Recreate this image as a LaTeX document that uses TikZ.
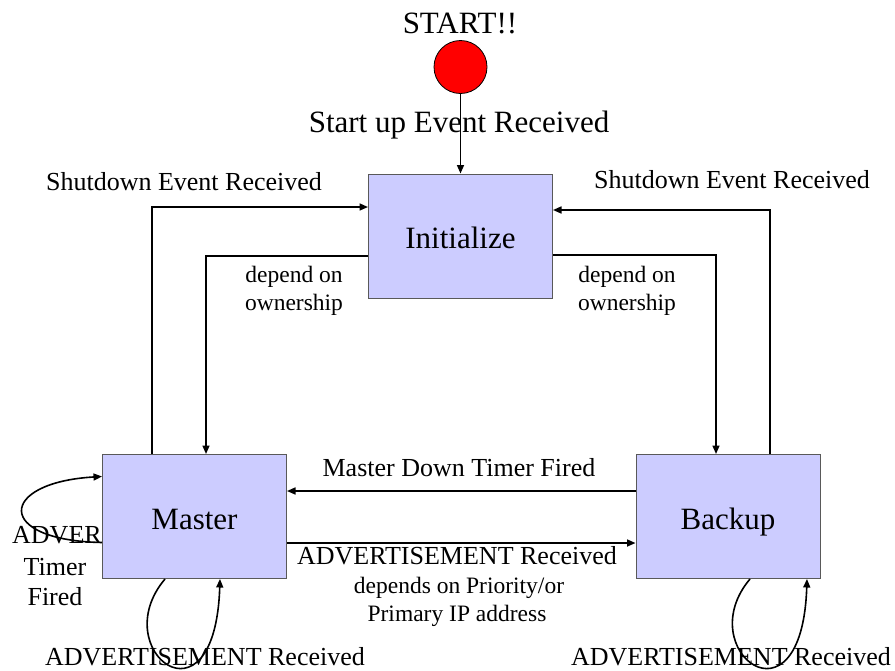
\documentclass[tikz,border=0pt]{standalone}
\usepackage{fontspec}
\setmainfont{Liberation Serif}
\usetikzlibrary{arrows.meta}
\definecolor{stateblue}{RGB}{204,204,255}
\begin{document}
\begin{tikzpicture}[x=1pt,y=-1pt,
  state/.style={draw=black!65, line width=1pt, fill=stateblue,
    minimum width=184pt, minimum height=124pt, inner sep=0pt,
    text height=30pt, text depth=5pt,
    font=\fontsize{31}{36}\selectfont},
  flow/.style={line width=1.6pt, -{Triangle[length=8.5pt,width=7pt]}},
  big/.style={font=\fontsize{31}{36}\selectfont, inner sep=0pt, anchor=base},
  lbl/.style={font=\fontsize{26}{30}\selectfont, inner sep=0pt, anchor=base},
  small/.style={font=\fontsize{23.5}{27}\selectfont, inner sep=0pt, anchor=base},
]
\useasboundingbox (0,0) rectangle (895,670);
\fill[white] (0,0) rectangle (895,670);

% --- labels (drawn first so boxes and arrows lie on top) ---
\node[big] (title) at (460,33) {START!!};
\node[big] (startup) at (459,132) {Start up Event Received};
\node[lbl] (sdleft) at (184,190) {Shutdown Event Received};
\node[lbl] (sdright) at (732,188) {Shutdown Event Received};
\node[small] (depl1) at (294,282) {depend on};
\node[small] (depl2) at (294,310) {ownership};
\node[small] (depr1) at (627,282) {depend on};
\node[small] (depr2) at (627,310) {ownership};
\node[lbl] (mdtf) at (459,476) {Master Down Timer Fired};
\node[lbl] (advrx) at (457,564) {ADVERTISEMENT Received};
\node[small] (prio1) at (459,593) {depends on Priority/or};
\node[small] (prio2) at (457,621) {Primary IP address};
\node[lbl] (advml) at (205,665) {ADVERTISEMENT Received};
\node[lbl] (advbl) at (731,665) {ADVERTISEMENT Received};
\node[lbl, anchor=base west] (advt1) at (12,543) {ADVER};
\node[lbl] (advt2) at (55,575) {Timer};
\node[lbl] (advt3) at (55,605) {Fired};

% --- states ---
\node[circle, draw=black, line width=0.8pt, fill=red, minimum size=53pt,
  inner sep=0pt] (start) at (460.5,67) {};
\node[state] (init) at (460.5,236) {Initialize};
\node[state] (master) at (194.5,516.5) {Master};
\node[state] (backup) at (728,516.5) {Backup};

% --- transitions ---
\draw[flow] (start) -- (init);
\draw[flow] ([xshift=-42.5pt]master.north) |- ([yshift=29pt]init.west);
\draw[flow] ([yshift=-20pt]init.west) -| ([xshift=11.5pt]master.north);
\draw[flow] ([xshift=42pt]backup.north) |- ([yshift=26pt]init.east);
\draw[flow] ([yshift=-19pt]init.east) -| ([xshift=-12pt]backup.north);
\draw[flow] ([yshift=25.5pt]backup.west) -- ([yshift=25.5pt]master.east);
\draw[flow] ([yshift=-26.5pt]master.east) -- ([yshift=-26.5pt]backup.west);

% --- self loops ---
\draw[flow] ([yshift=-26pt]master.west) .. controls +(-108,-2) and +(-104,6) .. ([yshift=40pt]master.west);
\draw[flow] ([xshift=-29.5pt]master.south) .. controls +(-60,71) and +(-5,156) .. ([xshift=25.5pt]master.south);
\draw[flow] ([xshift=22pt]backup.south) .. controls +(-60,71) and +(-5,156) .. ([xshift=79pt]backup.south);
\end{tikzpicture}
\end{document}
